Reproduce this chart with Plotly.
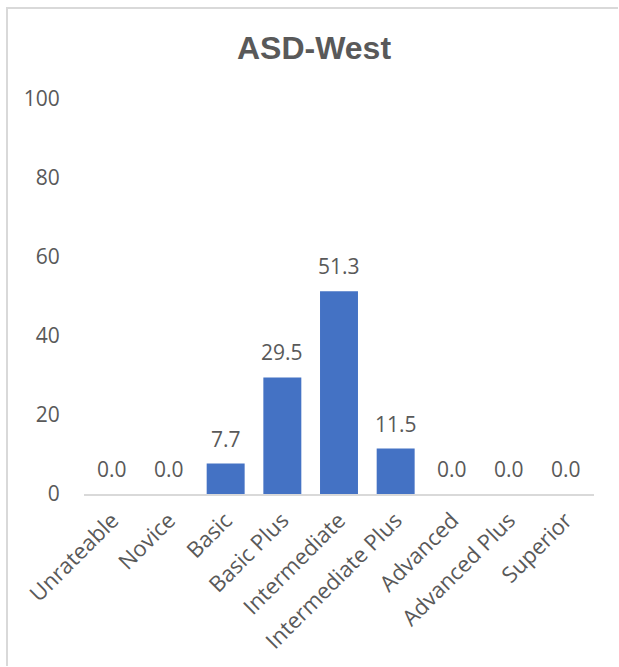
import plotly.graph_objects as go

categories = ["Unrateable", "Novice", "Basic", "Basic Plus", "Intermediate",
              "Intermediate Plus", "Advanced", "Advanced Plus", "Superior"]
values = [0.0, 0.0, 7.7, 29.5, 51.3, 11.5, 0.0, 0.0, 0.0]
y_ticks = [0, 20, 40, 60, 80, 100]
title_text = "ASD-West"

W, H = 619, 667
L, R, T, B = 84, 25, 99, 173
pw, ph = W - L - R, H - T - B

label_color = "#595959"
fig = go.Figure()
fig.add_trace(go.Bar(
    x=categories, y=values,
    marker=dict(color="#4472C4", line=dict(width=0)),
    width=0.67, hoverinfo="skip",
))

for c, v in zip(categories, values):
    fig.add_annotation(x=c, y=v, text=f"{v:.1f}", showarrow=False,
                       yanchor="bottom", yshift=9,
                       font=dict(family="Open Sans", size=21, color=label_color))

# chart border: top edge and left edge as thin filled strips inside the canvas
def px_x(p):
    return (p - L) / pw

def px_y(p):
    return (H - B - p) / ph

fig.add_shape(type="rect", xref="paper", yref="paper",
              x0=px_x(6), x1=px_x(W - 1), y0=px_y(9), y1=px_y(7),
              line=dict(width=0), fillcolor="#D9D9D9", layer="below")
fig.add_shape(type="rect", xref="paper", yref="paper",
              x0=px_x(6), x1=px_x(8), y0=px_y(H - 1), y1=px_y(7),
              line=dict(width=0), fillcolor="#D9D9D9", layer="below")

fig.update_layout(
    width=W, height=H,
    margin=dict(l=L, r=R, t=T, b=B, autoexpand=False),
    paper_bgcolor="white", plot_bgcolor="white",
    title=dict(text=f"<b>{title_text}</b>", x=314 / W, xanchor="center",
               y=1 - 48 / H, yanchor="middle", yref="container",
               font=dict(family="Liberation Sans, Arial", size=32, color=label_color)),
    showlegend=False,
    bargap=0.33,
    xaxis=dict(showgrid=False, showline=True, linecolor="#D9D9D9", linewidth=1.5,
               tickangle=-45, ticks="outside", ticklen=3, tickcolor="rgba(0,0,0,0)",
               zeroline=False,
               tickfont=dict(family="Open Sans", size=22, color=label_color)),
    yaxis=dict(range=[0, 100], tickvals=y_ticks, showgrid=False, showline=False,
               zeroline=False, ticks="outside", ticklen=19,
               tickcolor="rgba(0,0,0,0)",
               tickfont=dict(family="Open Sans", size=21, color=label_color)),
)

fig.write_html("out.html")
